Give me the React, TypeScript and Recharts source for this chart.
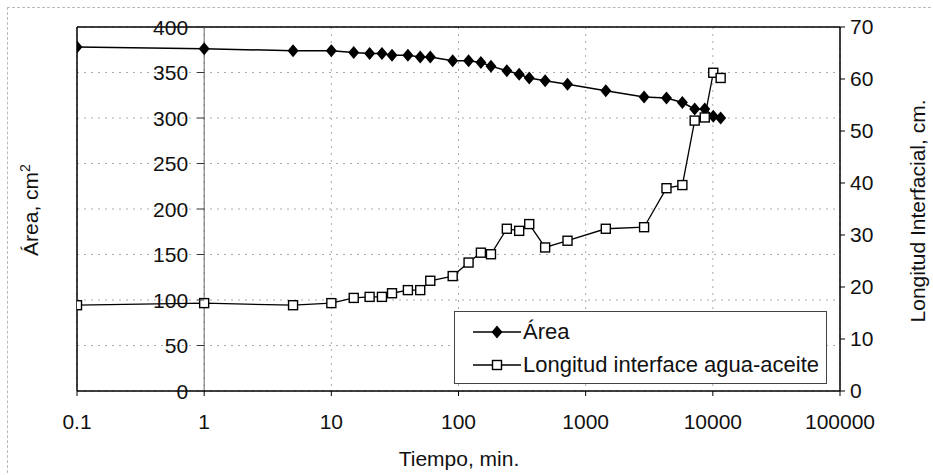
import React from "react"
import {
  ComposedChart,
  Line,
  XAxis,
  YAxis,
  CartesianGrid,
  ReferenceLine,
  Legend,
  Label,
} from "recharts"

// tiempo en minutos
const tiempos = [
  0.1, 1, 5, 10, 15, 20, 25, 30, 40, 50, 60, 90, 120, 150, 180, 240, 300, 360,
  480, 720, 1440, 2880, 4320, 5760, 7200, 8640, 10080, 11520,
]

// área, cm2 (eje izquierdo)
const area = [
  378, 376, 374, 374, 372, 371, 371, 369, 369, 367, 367, 363, 363, 361, 357,
  352, 348, 344, 341, 337, 330, 323, 322, 317, 310, 310, 302, 300,
]

// longitud interface agua-aceite, cm (eje derecho)
const longitud = [
  16.5, 16.9, 16.5, 16.9, 17.9, 18.1, 18.1, 18.8, 19.4, 19.4, 21.2, 22.1, 24.7,
  26.6, 26.3, 31.2, 30.8, 32.1, 27.6, 28.9, 31.2, 31.5, 39.0, 39.6, 52.0, 52.6,
  61.2, 60.2,
]

const xTicks = [0.1, 1, 10, 100, 1000, 10000, 100000]
const areaTicks = [0, 50, 100, 150, 200, 250, 300, 350, 400]
const longTicks = [0, 10, 20, 30, 40, 50, 60, 70]

const data = tiempos.map((t, i) => ({ t, area: area[i], longitud: longitud[i] }))

const FONT = "'Liberation Sans', Arial, sans-serif"
const W = 933
const H = 475
const LEFT = 77
const RIGHT = 93
const TOP = 27
const BOTTOM = 84
// the left value axis crosses the time axis at t = 1 (one decade in)
const CROSS_X = LEFT + (W - LEFT - RIGHT) / 6

const Diamond = (props: any) => {
  const { cx, cy, index } = props
  if (cx == null || cy == null) return <g key={`d-${index}`} />
  return (
    <path
      key={`d-${index}`}
      d={`M${cx},${cy - 6.5} L${cx + 5.5},${cy} L${cx},${cy + 6.5} L${cx - 5.5},${cy} Z`}
      fill="#000"
    />
  )
}

const Square = (props: any) => {
  const { cx, cy, index } = props
  if (cx == null || cy == null) return <g key={`s-${index}`} />
  return (
    <rect
      key={`s-${index}`}
      x={cx - 4.5}
      y={cy - 4.5}
      width={9}
      height={9}
      fill="#fff"
      stroke="#000"
      strokeWidth={1.4}
    />
  )
}

const LeftTick = (props: any) => {
  const { y, payload } = props
  return (
    <g>
      <line x1={CROSS_X - 7} x2={CROSS_X} y1={y} y2={y} stroke="#333" />
      <text
        x={CROSS_X - 16}
        y={y}
        dy="0.36em"
        textAnchor="end"
        fontSize={21}
        fontFamily={FONT}
        fill="#111"
      >
        {payload.value}
      </text>
    </g>
  )
}

const AreaTitle = () => (
  <text
    x={0}
    y={0}
    transform="translate(38, 210) rotate(-90)"
    textAnchor="middle"
    fontSize={21}
    fontFamily={FONT}
    fill="#111"
  >
    Área, cm<tspan fontSize={14} dy={-8}>2</tspan>
  </text>
)

const LongTitle = () => (
  <text
    x={0}
    y={0}
    transform="translate(925, 211) rotate(-90)"
    textAnchor="middle"
    fontSize={21}
    fontFamily={FONT}
    fill="#111"
  >
    Longitud Interfacial, cm.
  </text>
)

const TimeTitle = () => (
  <text
    x={459}
    y={466}
    textAnchor="middle"
    fontSize={21}
    fontFamily={FONT}
    fill="#111"
  >
    Tiempo, min.
  </text>
)

const LegendBox = () => (
  <div
    style={{
      border: "1px solid #444",
      background: "#fff",
      width: 373,
      height: 73,
      boxSizing: "border-box",
      fontFamily: FONT,
      fontSize: 22,
      color: "#111",
      paddingTop: 3,
    }}
  >
    <div style={{ display: "flex", alignItems: "center", height: 33 }}>
      <svg width={70} height={20} style={{ marginLeft: 16 }}>
        <line x1={2} x2={50} y1={10} y2={10} stroke="#000" strokeWidth={1.5} />
        <path d="M26,3.5 L31.5,10 L26,16.5 L20.5,10 Z" fill="#000" />
      </svg>
      <span style={{ marginLeft: -18 }}>Área</span>
    </div>
    <div style={{ display: "flex", alignItems: "center", height: 33 }}>
      <svg width={70} height={20} style={{ marginLeft: 16 }}>
        <line x1={2} x2={50} y1={10} y2={10} stroke="#000" strokeWidth={1.3} />
        <rect x={21.5} y={5.5} width={9} height={9} fill="#fff" stroke="#000" strokeWidth={1.4} />
      </svg>
      <span style={{ marginLeft: -18 }}>Longitud interface agua-aceite</span>
    </div>
  </div>
)

export default function App() {
  return (
    <div style={{ position: "absolute", left: 0, top: 0, width: W, height: H, background: "#fff" }}>
      <div
        style={{
          position: "absolute",
          left: 7,
          top: 7,
          width: W,
          height: H,
          borderTop: "1px dashed #bbb",
          borderLeft: "1px dashed #bbb",
        }}
      />
      <ComposedChart
        width={W}
        height={H}
        data={data}
        margin={{ top: TOP, right: 0, bottom: 0, left: 0 }}
        style={{ position: "absolute", left: 0, top: 0 }}
      >
        <CartesianGrid
          xAxisId="t"
          yAxisId="l"
          stroke="#aaa"
          strokeDasharray="2 5"
        />
        <XAxis
          xAxisId="t"
          dataKey="t"
          type="number"
          scale="log"
          domain={[0.1, 100000]}
          ticks={xTicks}
          allowDataOverflow
          height={BOTTOM}
          axisLine={{ stroke: "#000", strokeWidth: 1.5 }}
          tickLine={{ stroke: "#000" }}
          tickSize={5}
          tickMargin={18}
          tickFormatter={(v: number) => String(v)}
          tick={{ fontSize: 21, fontFamily: FONT, fill: "#111" }}
          interval={0}
        >
          <Label content={<TimeTitle />} />
        </XAxis>
        <YAxis
          yAxisId="l"
          domain={[0, 400]}
          ticks={areaTicks}
          width={LEFT}
          axisLine={{ stroke: "#000", strokeWidth: 1.5 }}
          tickLine={false}
          tick={<LeftTick />}
          interval={0}
        >
          <Label content={<AreaTitle />} />
        </YAxis>
        <YAxis
          yAxisId="r"
          orientation="right"
          domain={[0, 70]}
          ticks={longTicks}
          width={RIGHT}
          axisLine={{ stroke: "#000", strokeWidth: 1.5 }}
          tickLine={{ stroke: "#000" }}
          tickSize={5}
          tickMargin={5}
          tick={{ fontSize: 21, fontFamily: FONT, fill: "#111" }}
          interval={0}
        >
          <Label content={<LongTitle />} />
        </YAxis>
        <ReferenceLine xAxisId="t" yAxisId="l" y={400} stroke="#000" strokeWidth={1.5} />
        <ReferenceLine xAxisId="t" yAxisId="l" x={1} stroke="#666" strokeWidth={1} />
        <Legend
          layout="vertical"
          align="center"
          verticalAlign="middle"
          content={<LegendBox />}
          wrapperStyle={{ left: 454, top: 311, width: 373, height: 73 }}
        />
        <Line
          xAxisId="t"
          yAxisId="l"
          dataKey="area"
          name="Área"
          stroke="#000"
          strokeWidth={1.5}
          dot={<Diamond />}
          activeDot={false}
          isAnimationActive={false}
        />
        <Line
          xAxisId="t"
          yAxisId="r"
          dataKey="longitud"
          name="Longitud interface agua-aceite"
          stroke="#000"
          strokeWidth={1.3}
          dot={<Square />}
          activeDot={false}
          isAnimationActive={false}
        />
      </ComposedChart>
    </div>
  )
}
